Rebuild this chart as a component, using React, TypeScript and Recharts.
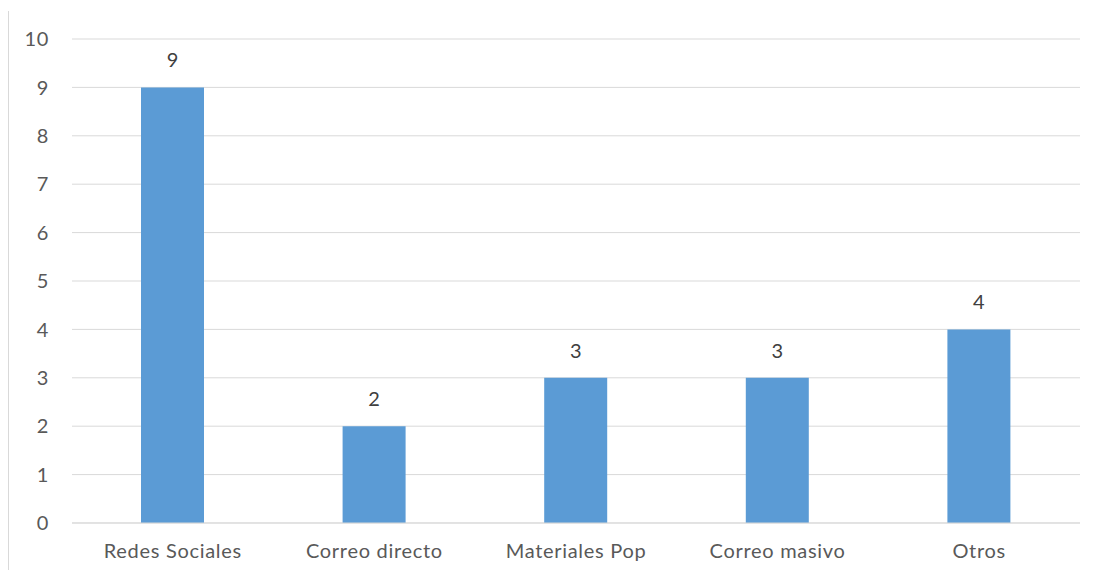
import { BarChart, Bar, XAxis, YAxis, CartesianGrid, LabelList } from 'recharts';

const categories = ['Redes Sociales', 'Correo directo', 'Materiales Pop', 'Correo masivo', 'Otros'];
const values = [9, 2, 3, 3, 4];
const yTicks = [0, 1, 2, 3, 4, 5, 6, 7, 8, 9, 10];

const data = categories.map((name, i) => ({ name, value: values[i] }));

const font = 'Lato, "Open Sans", sans-serif';
const textStyle = { fill: '#595959', fontSize: 20, letterSpacing: 0.7 };

export default function App() {
  return (
    <div style={{ position: 'relative', margin: -8, width: 1096, height: 578, background: '#fff', overflow: 'hidden' }}>
      {/* left border line */}
      <div style={{ position: 'absolute', left: 8, top: 11, width: 1, height: 567, background: '#D9D9D9' }} />
      <BarChart
        width={1096}
        height={578}
        data={data}
        margin={{ top: 39, right: 16, left: 0, bottom: 0 }}
        barCategoryGap={0}
        style={{ fontFamily: font }}
      >
        <CartesianGrid vertical={false} stroke="#D9D9D9" strokeWidth={1} />
        <XAxis
          dataKey="name"
          height={55}
          tickLine={false}
          axisLine={{ stroke: '#D9D9D9' }}
          tick={textStyle}
          tickMargin={15}
          interval={0}
        />
        <YAxis
          width={72}
          domain={[0, 10]}
          ticks={yTicks}
          tickLine={false}
          axisLine={false}
          tick={textStyle}
          tickMargin={17}
        />
        <Bar dataKey="value" fill="#5B9BD5" barSize={63} isAnimationActive={false}>
          <LabelList dataKey="value" position="top" offset={20} fill="#404040" fontSize={20} />
        </Bar>
      </BarChart>
    </div>
  );
}
